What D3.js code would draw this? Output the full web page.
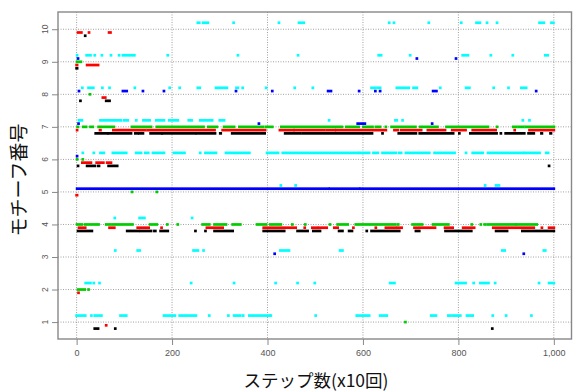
<!DOCTYPE html>
<html>
<head>
<meta charset="utf-8">
<script src="https://cdn.jsdelivr.net/npm/d3@7"></script>
<style>
  html, body { margin: 0; padding: 0; background: #fff; }
  svg { display: block; }
</style>
</head>
<body>
<div id="chart"></div>
<script>
// runs of consecutive steps: [motif, firstStep, lastStep]
const blackRuns = [
  [10, 18, 18],
  [9, 0, 1],
  [8, 8, 8], [8, 62, 69],
  [7, 40, 64], [7, 67, 114], [7, 123, 128], [7, 132, 139], [7, 155, 178], [7, 180, 248], [7, 252, 290],
  [7, 301, 302], [7, 326, 394], [7, 437, 469], [7, 474, 619], [7, 641, 641], [7, 675, 711], [7, 719, 789],
  [7, 802, 802], [7, 825, 880], [7, 889, 889], [7, 899, 938], [7, 947, 958], [7, 974, 975], [7, 993, 994],
  [6, 3, 3], [6, 22, 38], [6, 45, 47], [6, 67, 85], [6, 990, 990],
  [4, 3, 32], [4, 106, 130], [4, 135, 156], [4, 163, 165], [4, 176, 191], [4, 249, 249], [4, 270, 270],
  [4, 289, 327], [4, 392, 435], [4, 463, 484], [4, 496, 510], [4, 550, 557], [4, 571, 577], [4, 608, 608],
  [4, 618, 676], [4, 711, 718], [4, 773, 827], [4, 879, 902], [4, 934, 1000],
  [1, 38, 45], [1, 81, 81], [1, 871, 871]
];
const redRuns = [
  [10, 3, 10], [10, 26, 26], [10, 68, 71],
  [9, 0, 1], [9, 22, 45],
  [8, 55, 60],
  [7, 1, 1], [7, 49, 50], [7, 77, 144], [7, 149, 289], [7, 306, 395], [7, 426, 454], [7, 457, 519],
  [7, 524, 541], [7, 544, 648], [7, 666, 673], [7, 680, 722], [7, 736, 772], [7, 787, 815], [7, 830, 878],
  [7, 918, 918], [7, 949, 1000],
  [6, 12, 30], [6, 42, 56], [6, 64, 72],
  [5, 0, 1],
  [4, 5, 18], [4, 69, 79], [4, 128, 151], [4, 178, 178], [4, 273, 306], [4, 392, 459], [4, 478, 478],
  [4, 494, 504], [4, 508, 524], [4, 540, 547], [4, 580, 580], [4, 627, 627], [4, 648, 669], [4, 673, 681],
  [4, 708, 715], [4, 720, 751], [4, 772, 788], [4, 810, 833], [4, 873, 958], [4, 975, 975], [4, 990, 1000],
  [2, 4, 4],
  [1, 62, 62]
];
const greenRuns = [
  [9, 1, 9],
  [8, 28, 28],
  [7, 2, 3], [7, 14, 20], [7, 29, 34], [7, 46, 78], [7, 116, 156], [7, 168, 266], [7, 276, 294], [7, 309, 330],
  [7, 341, 391], [7, 397, 410], [7, 429, 556], [7, 565, 591], [7, 601, 620], [7, 627, 636], [7, 648, 648],
  [7, 660, 710], [7, 720, 756], [7, 775, 862], [7, 881, 881], [7, 915, 921], [7, 926, 936], [7, 941, 1000],
  [6, 1, 1], [6, 13, 13],
  [5, 116, 116], [5, 168, 168],
  [4, 1, 11], [4, 18, 46], [4, 62, 71], [4, 76, 117], [4, 154, 168], [4, 190, 190], [4, 212, 212],
  [4, 264, 278], [4, 289, 313], [4, 327, 343], [4, 378, 397], [4, 406, 428], [4, 452, 452], [4, 479, 479],
  [4, 531, 531], [4, 547, 568], [4, 585, 612], [4, 617, 668], [4, 674, 674], [4, 704, 724], [4, 747, 779],
  [4, 828, 828], [4, 847, 847], [4, 855, 855], [4, 861, 919], [4, 922, 947], [4, 952, 964],
  [2, 3, 17], [2, 25, 25],
  [1, 689, 689]
];
const blueRuns = [
  [9, 3, 3], [9, 713, 713], [9, 795, 795],
  [8, 5, 5], [8, 97, 105], [8, 139, 139], [8, 183, 183], [8, 334, 334], [8, 410, 410], [8, 527, 533],
  [8, 592, 592], [8, 626, 626], [8, 636, 636], [8, 747, 754], [8, 963, 963],
  [7, 4, 4], [7, 382, 382], [7, 589, 604], [7, 745, 745],
  [6, 1, 1],
  [5, 1, 528], [5, 531, 592], [5, 595, 1000],
  [3, 415, 415], [3, 937, 937]
];
const cyanRuns = [
  [10, 254, 257], [10, 265, 275], [10, 329, 329], [10, 424, 424], [10, 466, 476], [10, 655, 655], [10, 665, 665],
  [10, 738, 738], [10, 806, 806], [10, 838, 845], [10, 860, 860], [10, 881, 881], [10, 970, 979], [10, 995, 999],
  [9, 1, 1], [9, 21, 29], [9, 38, 38], [9, 53, 53], [9, 72, 72], [9, 89, 89], [9, 97, 121], [9, 191, 191],
  [9, 338, 338], [9, 464, 464], [9, 633, 638], [9, 699, 699], [9, 809, 820], [9, 868, 868], [9, 914, 914],
  [9, 982, 987],
  [8, 12, 12], [8, 25, 35], [8, 54, 54], [8, 69, 69], [8, 122, 122], [8, 195, 195], [8, 216, 216], [8, 254, 258],
  [8, 292, 315], [8, 335, 338], [8, 348, 348], [8, 397, 397], [8, 457, 457], [8, 495, 495], [8, 618, 626],
  [8, 631, 636], [8, 671, 696], [8, 706, 713], [8, 762, 762], [8, 816, 823], [8, 874, 874], [8, 905, 905],
  [8, 932, 942],
  [7, 5, 11], [7, 50, 78], [7, 83, 93], [7, 100, 107], [7, 125, 125], [7, 140, 153], [7, 167, 183],
  [7, 194, 212], [7, 235, 241], [7, 259, 284], [7, 300, 309], [7, 529, 529], [7, 668, 671], [7, 683, 683],
  [7, 935, 935], [7, 949, 949],
  [6, 13, 13], [6, 36, 36], [6, 50, 57], [6, 76, 104], [6, 125, 135], [6, 144, 150], [6, 160, 183],
  [6, 204, 226], [6, 259, 259], [6, 270, 292], [6, 313, 362], [6, 399, 422], [6, 432, 589], [6, 593, 613],
  [6, 622, 631], [6, 641, 669], [6, 676, 680], [6, 690, 739], [6, 750, 792], [6, 816, 816], [6, 830, 851],
  [6, 862, 935], [6, 939, 970], [6, 984, 988],
  [5, 428, 428], [5, 459, 459], [5, 856, 856], [5, 879, 885],
  [4, 80, 80], [4, 132, 142], [4, 242, 242],
  [3, 81, 81], [3, 128, 132], [3, 245, 254], [3, 266, 266], [3, 427, 445], [3, 552, 557], [3, 892, 897],
  [3, 979, 982],
  [2, 19, 29], [2, 36, 36], [2, 48, 48], [2, 240, 240], [2, 330, 330], [2, 417, 417], [2, 463, 463],
  [2, 499, 499], [2, 657, 666], [2, 795, 815], [2, 832, 832], [2, 846, 851], [2, 856, 863], [2, 877, 877],
  [2, 969, 969], [2, 990, 1000],
  [1, 0, 18], [1, 31, 31], [1, 38, 52], [1, 92, 104], [1, 183, 206], [1, 216, 250], [1, 278, 278],
  [1, 318, 318], [1, 330, 343], [1, 349, 349], [1, 362, 404], [1, 407, 407], [1, 501, 501], [1, 587, 613],
  [1, 636, 650], [1, 743, 753], [1, 779, 783], [1, 788, 804], [1, 818, 830], [1, 872, 872], [1, 900, 900],
  [1, 953, 953]
];

const seriesNames = ["black", "red", "green", "blue", "cyan"];
const seriesColors = ["#000000", "#ff0000", "#00cd00", "#0000ff", "#00ffff"];
const seriesOffsets = [-0.2, -0.1, 0, 0.1, 0.2];
const seriesRuns = [blackRuns, redRuns, greenRuns, blueRuns, cyanRuns];

const xTicks = [0, 200, 400, 600, 800, 1000];
const yTicks = [1, 2, 3, 4, 5, 6, 7, 8, 9, 10];
const xTitle = "ステップ数(x10回)";
const yTitle = "モチーフ番号";

const width = 573, height = 392;
const box = { left: 58, right: 571.5, top: 12, bottom: 339 };

const x = d3.scaleLinear().domain([-39, 1037]).range([box.left, box.right]);
const y = d3.scaleLinear().domain([0.48, 10.53]).range([box.bottom, box.top]);

const svg = d3.select("#chart")
  .append("svg")
  .attr("width", width)
  .attr("height", height);

// dotted grid
svg.append("g")
  .selectAll("line")
  .data(xTicks)
  .join("line")
  .attr("x1", d => x(d)).attr("x2", d => x(d))
  .attr("y1", box.top).attr("y2", box.bottom)
  .attr("stroke", "#a0a0a0")
  .attr("stroke-dasharray", "1,1.5");
svg.append("g")
  .selectAll("line")
  .data(yTicks)
  .join("line")
  .attr("x1", box.left).attr("x2", box.right)
  .attr("y1", d => y(d)).attr("y2", d => y(d))
  .attr("stroke", "#a0a0a0")
  .attr("stroke-dasharray", "1,1.5");

// points (runs of consecutive steps drawn as one strip)
const pt = 1.35;
seriesNames.forEach((name, i) => {
  svg.append("g")
    .attr("class", "series-" + name)
    .attr("fill", seriesColors[i])
    .selectAll("rect")
    .data(seriesRuns[i])
    .join("rect")
    .attr("x", d => x(d[1]) - pt)
    .attr("width", d => x(d[2]) - x(d[1]) + 2 * pt)
    .attr("y", d => y(d[0] + seriesOffsets[i]) - pt)
    .attr("height", 2 * pt);
});

// box
svg.append("rect")
  .attr("x", box.left).attr("y", box.top)
  .attr("width", box.right - box.left)
  .attr("height", box.bottom - box.top)
  .attr("fill", "none")
  .attr("stroke", "#888")
  .attr("stroke-width", 1.4);

// x axis
const xAxis = d3.axisBottom(x)
  .tickValues(xTicks)
  .tickSize(6)
  .tickPadding(5)
  .tickSizeOuter(0);
const xAxisElement = svg.append("g")
  .attr("transform", `translate(0,${box.bottom})`)
  .call(xAxis);
xAxisElement.select(".domain").remove();
xAxisElement.selectAll("line").attr("stroke", "#888");
xAxisElement.selectAll("text")
  .attr("fill", "#555")
  .attr("font-size", 9)
  .attr("font-family", "Liberation Sans, Arial, sans-serif");

// y axis, labels turned like R's default
const yAxis = d3.axisLeft(y)
  .tickValues(yTicks)
  .tickSize(6)
  .tickSizeOuter(0)
  .tickFormat("");
const yAxisElement = svg.append("g")
  .attr("transform", `translate(${box.left},0)`)
  .call(yAxis);
yAxisElement.select(".domain").remove();
yAxisElement.selectAll("line").attr("stroke", "#888");
svg.append("g")
  .selectAll("text")
  .data(yTicks)
  .join("text")
  .attr("transform", d => `translate(48,${y(d)}) rotate(-90)`)
  .attr("text-anchor", "middle")
  .attr("fill", "#555")
  .attr("font-size", 8.5)
  .attr("font-family", "Liberation Sans, Arial, sans-serif")
  .text(d => d);

// titles
svg.append("text")
  .attr("x", 316)
  .attr("y", 387)
  .attr("text-anchor", "middle")
  .attr("font-size", 17.5)
  .attr("font-family", "Noto Sans CJK JP, sans-serif")
  .attr("fill", "#111")
  .text(xTitle);
svg.append("text")
  .attr("transform", "translate(26,180) rotate(-90)")
  .attr("text-anchor", "middle")
  .attr("font-size", 19)
  .attr("font-family", "Noto Sans CJK JP, sans-serif")
  .attr("fill", "#111")
  .text(yTitle);
</script>
</body>
</html>
